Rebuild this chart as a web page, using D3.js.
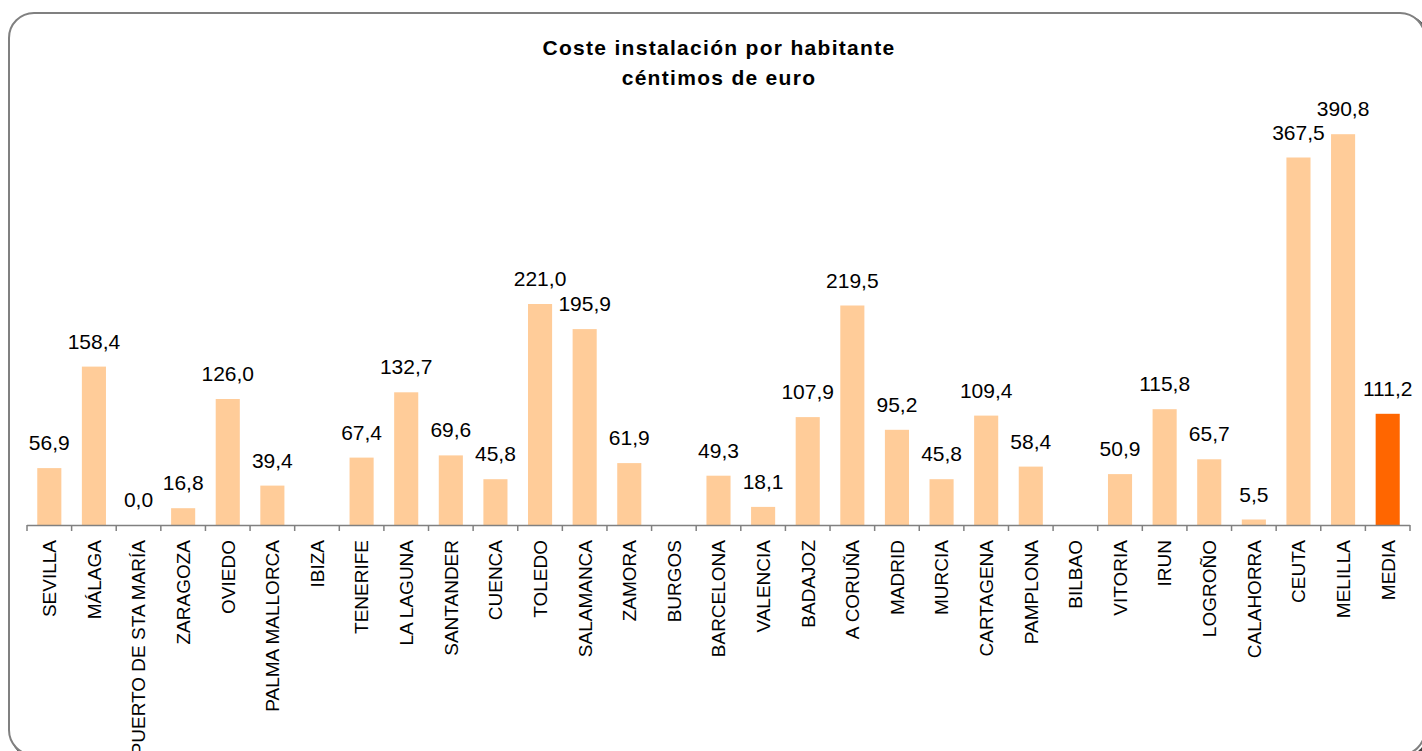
<!DOCTYPE html>
<html>
<head>
<meta charset="utf-8">
<script src="https://cdn.jsdelivr.net/npm/d3@7"></script>
<style>
  body { margin: 0; background: #fff; }
  svg { display: block; font-family: Arial, "Liberation Sans", sans-serif; }
</style>
</head>
<body>
<main></main>
<script>
'use strict';

const cities = ["SEVILLA", "MÁLAGA", "PUERTO DE STA MARÍA", "ZARAGOZA", "OVIEDO",
  "PALMA MALLORCA", "IBIZA", "TENERIFE", "LA LAGUNA", "SANTANDER", "CUENCA",
  "TOLEDO", "SALAMANCA", "ZAMORA", "BURGOS", "BARCELONA", "VALENCIA", "BADAJOZ",
  "A CORUÑA", "MADRID", "MURCIA", "CARTAGENA", "PAMPLONA", "BILBAO", "VITORIA",
  "IRUN", "LOGROÑO", "CALAHORRA", "CEUTA", "MELILLA", "MEDIA"];

const costs = [56.9, 158.4, 0.0, 16.8, 126.0, 39.4, null, 67.4, 132.7, 69.6, 45.8,
  221.0, 195.9, 61.9, null, 49.3, 18.1, 107.9, 219.5, 95.2, 45.8, 109.4, 58.4,
  null, 50.9, 115.8, 65.7, 5.5, 367.5, 390.8, 111.2];

const titleLines = ["Coste instalación por habitante", "céntimos de euro"];
const averageName = "MEDIA";

const W = 1422, H = 751;
const plot = { left: 27, right: 1410, top: 125, bottom: 525 };

const svg = d3.select('main')
  .append('svg')
  .attr('width', W)
  .attr('height', H);

// frame with shadow
svg.append('rect')
  .attr('x', 12).attr('y', 16)
  .attr('width', 1416).attr('height', 742)
  .attr('rx', 25)
  .attr('fill', 'none')
  .attr('stroke', '#404040')
  .attr('stroke-width', 3);
svg.append('rect')
  .attr('x', 9).attr('y', 13)
  .attr('width', 1416).attr('height', 742)
  .attr('rx', 25)
  .attr('fill', '#fff')
  .attr('stroke', '#808080')
  .attr('stroke-width', 2);

// title
svg.append('text')
  .attr('text-anchor', 'middle')
  .style('font-size', '21px')
  .style('font-weight', 'bold')
  .style('letter-spacing', '1.3px')
  .selectAll('tspan')
  .data(titleLines)
  .enter()
  .append('tspan')
  .attr('x', 719)
  .attr('y', (d, i) => 55 + i * 30)
  .text(d => d);

const x = d3.scaleBand()
  .domain(cities)
  .range([plot.left, plot.right])
  .paddingInner(0.46)
  .paddingOuter(0.23);

const y = d3.scaleLinear()
  .domain([0, 400])
  .range([plot.bottom, plot.top]);

const fmt = v => d3.format('.1f')(v).replace('.', ',');
const rows = cities.map((c, i) => ({ city: c, value: costs[i] }));

// bars
svg.append('g')
  .selectAll('rect')
  .data(rows.filter(d => d.value !== null))
  .enter()
  .append('rect')
  .attr('x', d => x(d.city))
  .attr('y', d => y(d.value))
  .attr('width', x.bandwidth())
  .attr('height', d => y(0) - y(d.value))
  .attr('fill', d => d.city === averageName ? '#FF6600' : '#FFCC99');

// value labels
svg.append('g')
  .selectAll('text')
  .data(rows.filter(d => d.value !== null))
  .enter()
  .append('text')
  .attr('x', d => x(d.city) + x.bandwidth() / 2)
  .attr('y', d => y(d.value) - 18)
  .attr('text-anchor', 'middle')
  .style('font-size', '21px')
  .attr('fill', '#000')
  .text(d => fmt(d.value));

// category axis
const step = x.step();
const axis = svg.append('g');
axis.append('line')
  .attr('x1', plot.left).attr('x2', plot.right)
  .attr('y1', plot.bottom + 0.5).attr('y2', plot.bottom + 0.5)
  .attr('stroke', '#808080')
  .attr('stroke-width', 1.5);

axis.selectAll('.tick')
  .data(d3.range(cities.length + 1))
  .enter()
  .append('line')
  .attr('x1', i => plot.left + i * step)
  .attr('x2', i => plot.left + i * step)
  .attr('y1', plot.bottom)
  .attr('y2', plot.bottom + 6)
  .attr('stroke', '#808080')
  .attr('stroke-width', 1.5);

axis.selectAll('.cat')
  .data(cities)
  .enter()
  .append('text')
  .attr('transform', d => 'translate(' + (x(d) + x.bandwidth() / 2) + ',' + (plot.bottom + 15) + ') rotate(-90)')
  .attr('dy', '0.36em')
  .attr('text-anchor', 'end')
  .style('font-size', '19px')
  .attr('fill', '#000')
  .text(d => d);
</script>
</body>
</html>
